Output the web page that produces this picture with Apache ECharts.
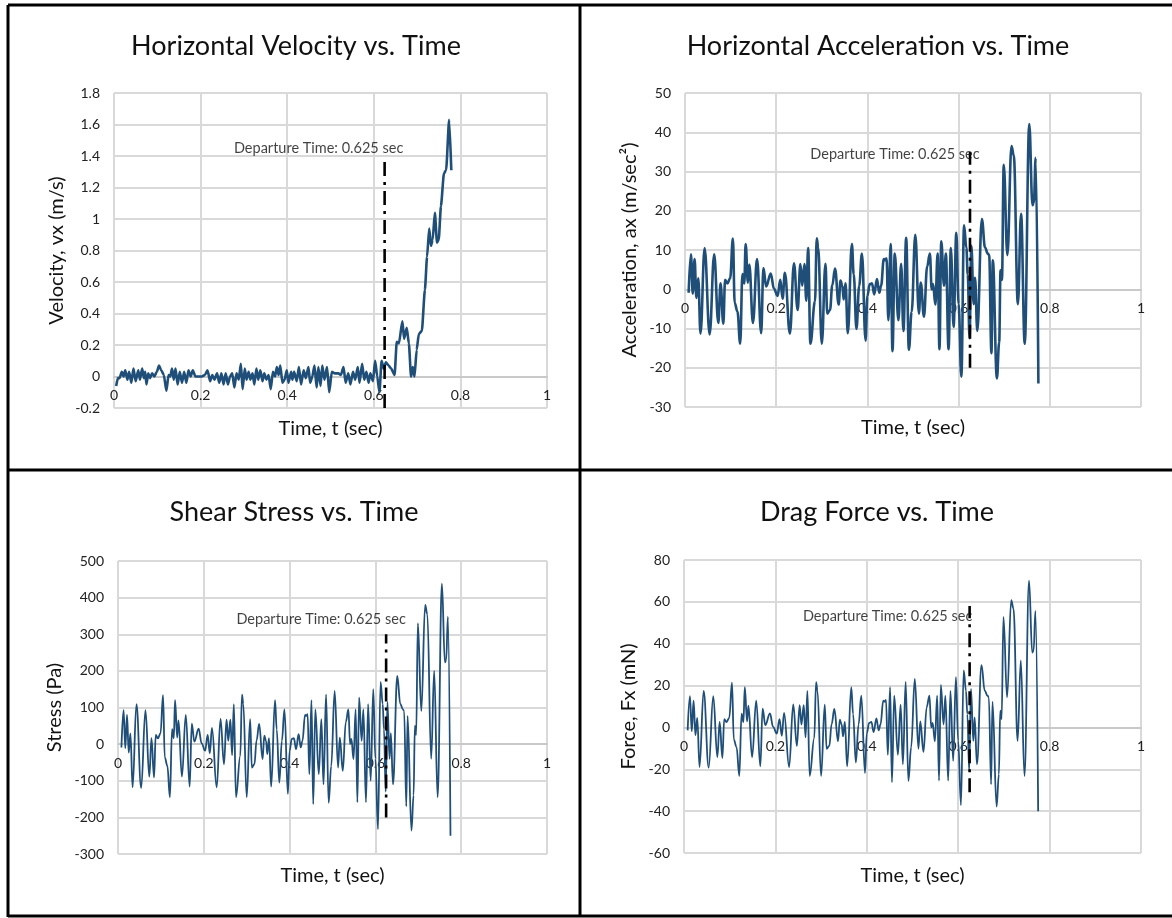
<!DOCTYPE html>
<html>
<head>
<meta charset="utf-8">
<script src="https://cdn.jsdelivr.net/npm/echarts@6/dist/echarts.min.js"></script>
<style>
    html, body { margin: 0; padding: 0; background: #fff; }
    #chart { width: 1172px; height: 918px; }
</style>
</head>
<body>
<div id="chart"></div>
<script>
    // velocity samples (time in sec, vx in m/s)
    const velT = [
        0.005, 0.009, 0.013, 0.018, 0.022, 0.026, 0.031, 0.035, 0.040, 0.045,
        0.050, 0.056, 0.060, 0.065, 0.069, 0.072, 0.075, 0.079, 0.083, 0.088,
        0.093, 0.099, 0.104, 0.109, 0.115, 0.121, 0.126, 0.130, 0.134, 0.138,
        0.142, 0.147, 0.152, 0.157, 0.162, 0.167, 0.172, 0.177, 0.182, 0.188,
        0.195, 0.203, 0.210, 0.216, 0.222, 0.227, 0.232, 0.238, 0.243, 0.248,
        0.253, 0.258, 0.263, 0.268, 0.273, 0.278, 0.283, 0.288, 0.293, 0.297,
        0.302, 0.306, 0.311, 0.315, 0.320, 0.324, 0.329, 0.333, 0.338, 0.343,
        0.347, 0.352, 0.357, 0.362, 0.367, 0.372, 0.376, 0.380, 0.384, 0.389,
        0.394, 0.399, 0.403, 0.409, 0.412, 0.416, 0.422, 0.427, 0.432, 0.438,
        0.443, 0.449, 0.453, 0.458, 0.463, 0.468, 0.472, 0.477, 0.481, 0.486,
        0.492, 0.497, 0.503, 0.510, 0.518, 0.524, 0.530, 0.535, 0.541, 0.546,
        0.552, 0.557, 0.563, 0.567, 0.573, 0.578, 0.583, 0.588, 0.592, 0.598,
        0.603, 0.608, 0.613, 0.618, 0.623, 0.628, 0.634, 0.640, 0.648, 0.653,
        0.658, 0.666, 0.670, 0.676, 0.681, 0.686, 0.690, 0.694, 0.699, 0.704,
        0.711, 0.718, 0.723, 0.728, 0.732, 0.736, 0.741, 0.746, 0.750, 0.755,
        0.762, 0.767, 0.774, 0.779
    ];
    const velVals = [
        -0.06, -0.01, -0.01, 0.03, 0.00, 0.04, -0.02, 0.03, -0.04, 0.05,
        -0.03, 0.04, -0.02, 0.05, -0.01, 0.03, -0.05, 0.02, -0.01, 0.02,
        0.00, 0.03, 0.07, 0.04, 0.01, -0.09, 0.01, 0.00, 0.05, -0.02,
        0.05, -0.05, 0.03, -0.04, 0.03, -0.04, 0.04, 0.00, 0.04, 0.00,
        0.00, 0.00, 0.01, 0.04, -0.03, 0.01, -0.02, 0.02, -0.04, 0.02,
        -0.05, 0.02, -0.05, 0.00, 0.02, -0.07, 0.02, -0.02, 0.08, -0.08,
        0.05, -0.02, 0.03, -0.02, 0.02, -0.05, 0.05, -0.02, 0.04, -0.03,
        0.02, -0.02, 0.01, -0.08, 0.03, 0.00, 0.06, 0.01, 0.07, -0.04,
        -0.02, 0.04, -0.04, 0.03, -0.02, 0.03, -0.03, 0.06, -0.05, 0.04,
        -0.01, 0.06, -0.04, 0.00, 0.07, -0.07, 0.06, -0.06, 0.07, -0.02,
        0.06, -0.10, 0.03, 0.02, 0.02, 0.01, 0.06, -0.04, 0.02, -0.05,
        0.03, -0.02, 0.06, -0.04, 0.08, -0.02, 0.03, -0.04, 0.02, -0.03,
        0.10, 0.00, -0.10, 0.10, 0.05, 0.09, 0.07, 0.05, 0.01, 0.22,
        0.21, 0.35, 0.24, 0.31, 0.21, 0.00, 0.06, 0.00, 0.17, 0.27,
        0.29, 0.55, 0.76, 0.94, 0.83, 0.87, 1.04, 0.85, 0.87, 1.08,
        1.29, 1.31, 1.63, 1.31
    ];

    // acceleration / stress / force samples share the same times
    const dynT = [
        0.008, 0.013, 0.017, 0.021, 0.025, 0.029, 0.034, 0.043, 0.054, 0.064,
        0.073, 0.078, 0.084, 0.088, 0.093, 0.099, 0.105, 0.109, 0.115, 0.121,
        0.126, 0.130, 0.133, 0.138, 0.141, 0.149, 0.158, 0.167, 0.172, 0.178,
        0.188, 0.195, 0.203, 0.209, 0.214, 0.219, 0.230, 0.239, 0.247, 0.253,
        0.257, 0.262, 0.266, 0.270, 0.275, 0.285, 0.289, 0.292, 0.300, 0.308,
        0.312, 0.318, 0.323, 0.329, 0.337, 0.341, 0.345, 0.348, 0.352, 0.357,
        0.366, 0.370, 0.376, 0.382, 0.388, 0.396, 0.400, 0.405, 0.410, 0.415,
        0.421, 0.426, 0.430, 0.436, 0.439, 0.442, 0.446, 0.451, 0.455, 0.460,
        0.468, 0.474, 0.479, 0.485, 0.491, 0.497, 0.505, 0.513, 0.517, 0.524,
        0.531, 0.537, 0.541, 0.544, 0.549, 0.554, 0.558, 0.562, 0.568, 0.572,
        0.578, 0.583, 0.589, 0.595, 0.600, 0.606, 0.612, 0.617, 0.620, 0.624,
        0.628, 0.633, 0.636, 0.641, 0.651, 0.658, 0.664, 0.667, 0.672, 0.675,
        0.684, 0.689, 0.692, 0.695, 0.699, 0.707, 0.716, 0.721, 0.730, 0.737,
        0.745, 0.755, 0.762, 0.765, 0.769, 0.775
    ];
    const accelVals = [
        -0.9, 8.9, -1.1, 7.7, -2.2, 2.8, -11.3, 10.5, -11.5, 8.9,
        -8.6, 1.5, -8.8, 2.4, 1.5, 2.8, 12.9, -3.5, -5.7, -13.9,
        3.9, 1.5, 11.5, 1.7, 6.3, -8.6, 7.7, -11.2, 5.4, 0.7,
        4.0, 0.2, -1.7, 2.4, -2.4, 4.2, -11.3, 6.6, -5.3, 6.4,
        0.9, 6.4, -2.9, 10.5, -13.9, -3.1, 13.0, 10.6, -13.9, 6.5,
        -6.2, -5.3, 1.0, 5.3, -3.9, 2.2, 0.9, -2.6, 1.5, -11.2,
        11.5, 3.8, -10.1, 0.9, 9.1, -13.1, -1.7, 1.3, 1.5, -1.3,
        2.6, -0.9, 0.9, 7.7, 7.4, 7.9, -7.9, 11.5, -15.8, 9.1,
        -7.9, 6.5, -10.6, 13.1, -15.4, -5.8, 13.9, -6.2, 1.7, -7.0,
        5.8, 9.1, 0.0, 1.3, -3.9, 9.1, -15.3, 12.2, 0.9, 9.1,
        -15.3, 10.5, -9.6, 14.4, -3.8, -22.3, 16.3, 10.6, 3.8, -12.5,
        11.1, -3.8, 2.9, -10.6, 17.9, 10.6, 9.1, 8.7, -16.3, 7.4,
        -22.7, -13.5, 4.8, 2.4, 31.7, 8.7, 36.5, 34.1, -3.8, 19.2,
        -13.9, 42.1, 21.4, 22.1, 33.5, -24.0
    ];
    const stressVals = [
        -9, 93, -11, 80, -23, 29, -118, 109, -120, 93,
        -89, 16, -91, 25, 16, 29, 134, -36, -59, -145,
        41, 16, 120, 18, 65, -89, 80, -116, 56, 7,
        42, 2, -18, 25, -25, 44, -118, 69, -55, 67,
        9, 67, -30, 109, -145, -32, 135, 110, -145, 68,
        -64, -55, 10, 55, -41, 23, 9, -27, 16, -116,
        120, 40, -105, 9, 95, -136, -18, 14, 16, -14,
        27, -9, 9, 80, 77, 82, -82, 120, -164, 95,
        -82, 68, -110, 136, -160, -60, 145, -64, 18, -73,
        60, 95, 0, 14, -41, 95, -159, 127, 9, 95,
        -159, 109, -100, 150, -40, -232, 170, 110, 40, -130,
        115, -40, 30, -110, 186, 110, 95, 90, -170, 77,
        -236, -140, 50, 25, 330, 90, 380, 355, -40, 200,
        -145, 438, 223, 230, 348, -250
    ];
    const forceVals = [
        -1.4, 14.9, -1.8, 12.8, -3.7, 4.6, -18.9, 17.4, -19.2, 14.9,
        -14.2, 2.6, -14.6, 4.0, 2.6, 4.6, 21.4, -5.8, -9.4, -23.2,
        6.6, 2.6, 19.2, 2.9, 10.4, -14.2, 12.8, -18.6, 9.0, 1.1,
        6.7, 0.3, -2.9, 4.0, -4.0, 7.0, -18.9, 11.0, -8.8, 10.7,
        1.4, 10.7, -4.8, 17.4, -23.2, -5.1, 21.6, 17.6, -23.2, 10.9,
        -10.2, -8.8, 1.6, 8.8, -6.6, 3.7, 1.4, -4.3, 2.6, -18.6,
        19.2, 6.4, -16.8, 1.4, 15.2, -21.8, -2.9, 2.2, 2.6, -2.2,
        4.3, -1.4, 1.4, 12.8, 12.3, 13.1, -13.1, 19.2, -26.2, 15.2,
        -13.1, 10.9, -17.6, 21.8, -25.6, -9.6, 23.2, -10.2, 2.9, -11.7,
        9.6, 15.2, 0.0, 2.2, -6.6, 15.2, -25.4, 20.3, 1.4, 15.2,
        -25.4, 17.4, -16.0, 24.0, -6.4, -37.1, 27.2, 17.6, 6.4, -20.8,
        18.4, -6.4, 4.8, -17.6, 29.8, 17.6, 15.2, 14.4, -27.2, 12.3,
        -37.8, -22.4, 8.0, 4.0, 52.8, 14.4, 60.8, 56.8, -6.4, 32.0,
        -23.2, 70.1, 35.7, 36.8, 55.7, -40.0
    ];

    // departure marker: time and vertical extent in each panel
    const departT = 0.625;
    const departText = 'Departure Time: 0.625 sec';
    const departVel = [-0.2, 1.4];
    const departAcc = [-20, 35];
    const departStress = [-200, 300];
    const departForce = [-31, 58];

    // panel titles and axis names
    const titles = ['Horizontal Velocity vs. Time', 'Horizontal Acceleration vs. Time',
        'Shear Stress vs. Time', 'Drag Force vs. Time'];
    const yNames = ['Velocity, vx (m/s)', 'Acceleration, ax (m/sec\u00b2)', 'Stress (Pa)', 'Force, Fx (mN)'];
    const xName = 'Time, t (sec)';
    // y ranges [min, max, interval]
    const yRanges = [[-0.2, 1.8, 0.2], [-30, 50, 10], [-300, 500, 100], [-60, 80, 20]];

    const FONT = 'Lato';
    const LINE = '#1F4E79';
    const GRID_C = '#d9d9d9';

    function pairs(ts, vs) {
        return ts.map((t, i) => [t, vs[i]]);
    }

    // plot area placement of each panel (pixels)
    const grids = [
        {left: 114, top: 93, width: 433, height: 315},
        {left: 685, top: 93, width: 456, height: 314},
        {left: 118, top: 561, width: 429, height: 293},
        {left: 684, top: 560, width: 457, height: 293}
    ];
    const xNameGaps = [42, 128, 121, 138];
    const yNameGaps = [47, 45, 53, 45];
    const lineWidths = [2.6, 2.6, 1.8, 1.8];
    const labelOffsets = [[-66, -8], [-75, 2], [-65, -15], [-82, 10]];
    const titlePos = [[291, 28], [873, 28], [289, 494], [872, 494]];

    const mainData = [pairs(velT, velVals), pairs(dynT, accelVals), pairs(dynT, stressVals), pairs(dynT, forceVals)];
    const departs = [departVel, departAcc, departStress, departForce];

    // x axis sits on y = 0 (Excel style): shift it up from the bottom of the plot
    function zeroOffset(i) {
        const r = yRanges[i];
        return -grids[i].height * (0 - r[0]) / (r[1] - r[0]);
    }

    let option = {
        backgroundColor: '#fff',
        animation: false,
        title: titles.map((t, i) => ({
            text: t,
            left: titlePos[i][0],
            top: titlePos[i][1],
            textAlign: 'center',
            textStyle: {fontFamily: FONT, fontSize: 27, fontWeight: 'normal', color: '#111'}
        })),
        grid: grids.map(g => Object.assign({containLabel: false, outerBoundsMode: 'none'}, g)),
        xAxis: grids.map((g, i) => ({
            gridIndex: i,
            type: 'value',
            min: 0, max: 1, interval: 0.2,
            offset: zeroOffset(i),
            name: xName,
            nameLocation: 'middle',
            nameGap: xNameGaps[i],
            nameTextStyle: {fontFamily: FONT, fontSize: 20, color: '#111'},
            axisLine: {show: true, onZero: false, lineStyle: {color: '#c9c9c9', width: 2}},
            axisTick: {show: false},
            axisLabel: {fontFamily: FONT, fontSize: 14, color: '#222', margin: 12},
            splitLine: {show: true, lineStyle: {color: GRID_C, width: 2}}
        })),
        yAxis: grids.map((g, i) => ({
            gridIndex: i,
            type: 'value',
            min: yRanges[i][0], max: yRanges[i][1], interval: yRanges[i][2],
            name: yNames[i],
            nameLocation: 'middle',
            nameGap: yNameGaps[i],
            nameTextStyle: {fontFamily: FONT, fontSize: 20, color: '#111'},
            axisLine: {show: false},
            axisTick: {show: false},
            axisLabel: {fontFamily: FONT, fontSize: 14, color: '#222', margin: 14},
            splitLine: {show: true, lineStyle: {color: GRID_C, width: 2}}
        })),
        series: [],
        graphic: [
            // panel frame
            {type: 'line', shape: {x1: 8, y1: 5, x2: 1172, y2: 5}, style: {stroke: '#000', lineWidth: 3}},
            {type: 'line', shape: {x1: 8, y1: 5, x2: 8, y2: 917}, style: {stroke: '#000', lineWidth: 3}},
            {type: 'line', shape: {x1: 580, y1: 5, x2: 580, y2: 917}, style: {stroke: '#000', lineWidth: 3}},
            {type: 'line', shape: {x1: 8, y1: 470, x2: 1172, y2: 470}, style: {stroke: '#000', lineWidth: 3}},
            {type: 'line', shape: {x1: 8, y1: 916, x2: 1172, y2: 916}, style: {stroke: '#000', lineWidth: 3}}
        ]
    };

    for (let i = 0; i < 4; i++) {
        option.series.push({
            type: 'line',
            xAxisIndex: i, yAxisIndex: i,
            data: mainData[i],
            showSymbol: false,
            smooth: i === 0 ? 0.2 : 0.4,
            smoothMonotone: 'x',
            lineStyle: {color: LINE, width: lineWidths[i]},
            z: 3
        });
        option.series.push({
            type: 'line',
            xAxisIndex: i, yAxisIndex: i,
            data: [[departT, departs[i][0]], [departT, departs[i][1]]],
            showSymbol: false,
            lineStyle: {color: '#000', width: 2.6, type: [14, 6, 3, 6]},
            z: 4
        });
        option.series.push({
            type: 'scatter',
            xAxisIndex: i, yAxisIndex: i,
            data: [[departT, departs[i][1]]],
            symbolSize: 1,
            itemStyle: {color: 'rgba(0,0,0,0)'},
            label: {
                show: true,
                position: 'inside',
                offset: labelOffsets[i],
                formatter: departText,
                fontFamily: FONT, fontSize: 14.5, color: '#111'
            },
            z: 5
        });
    }

    var myChart = echarts.init(document.getElementById('chart'));
    myChart.setOption(option);
</script>
</body>
</html>
